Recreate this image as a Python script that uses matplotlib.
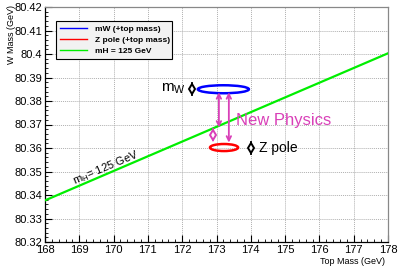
import numpy as np
import matplotlib
matplotlib.use("Agg")
import matplotlib.pyplot as plt
from matplotlib.patches import Ellipse
from matplotlib.lines import Line2D
from matplotlib.ticker import MultipleLocator, FormatStrFormatter

plt.rcParams['font.family'] = ['Liberation Sans', 'DejaVu Sans']
plt.rcParams['mathtext.fontset'] = 'custom'
plt.rcParams['mathtext.rm'] = 'Liberation Sans'
plt.rcParams['mathtext.it'] = 'Liberation Sans'

# SM line for mH = 125 GeV (top mass -> W mass)
higgs_top = [168.0, 178.0]
higgs_mw = [80.3377, 80.4003]

# measured contours: centre (top, W), full width, full height
mw_ellipse = (173.20, 80.3850, 1.49, 0.0034)
zpole_ellipse = (173.22, 80.3602, 0.82, 0.0030)

# points with vertical error bars
mw_point = (172.29, 80.3850, 0.0030)
zpole_point = (174.00, 80.3600, 0.0030)
np_point = (172.90, 80.3657, 0.0026)

# "new physics" arrows: x, y_top, y_bottom
arrows_x = [173.07, 173.36]
arrows_top = [80.3837, 80.3837]
arrows_bot = [80.3687, 80.3623]

magenta = '#d940b8'

fig = plt.figure(figsize=(3.99, 2.70), dpi=100)
ax = fig.add_axes([45/399, 1 - 242/270, 343/399, 235/270])

ax.set_xlim(168, 178)
ax.set_ylim(80.32, 80.42)

ax.xaxis.set_major_locator(MultipleLocator(1))
ax.xaxis.set_minor_locator(MultipleLocator(0.2))
ax.yaxis.set_major_locator(MultipleLocator(0.01))
ax.yaxis.set_minor_locator(MultipleLocator(0.002))
ax.yaxis.set_major_formatter(FormatStrFormatter('%g'))
ax.xaxis.set_major_formatter(FormatStrFormatter('%g'))
ax.tick_params(which='both', direction='in', top=False, right=False,
               labelsize=8, color='black')
ax.tick_params(which='major', length=5, width=0.8, pad=2)
ax.tick_params(which='minor', length=2.5, width=0.6)
for s in ['top', 'right']:
    ax.spines[s].set_color('#888888')
for s in ax.spines.values():
    s.set_linewidth(0.9)

ax.grid(which='major', color='#b0b0b0', linestyle=(0, (1, 1)), linewidth=0.7)
ax.set_axisbelow(True)

ax.plot(higgs_top, higgs_mw, color='#00ee00', lw=1.6, zorder=3)

ax.add_patch(Ellipse(mw_ellipse[:2], mw_ellipse[2], mw_ellipse[3],
                     fill=False, edgecolor='#0000ff', lw=1.8, zorder=4))
ax.add_patch(Ellipse(zpole_ellipse[:2], zpole_ellipse[2], zpole_ellipse[3],
                     fill=False, edgecolor='#ff0000', lw=1.8, zorder=4))

for (px, py, pe), col in [(mw_point, 'black'), (zpole_point, 'black'), (np_point, magenta)]:
    ax.errorbar([px], [py], yerr=[pe], fmt='d', color=col, mfc='white',
                mec=col, mew=1.4, ms=5.5, elinewidth=1.2, capsize=0, zorder=5)

for x, yt, yb in zip(arrows_x, arrows_top, arrows_bot):
    ax.annotate('', xy=(x, yb), xytext=(x, yt),
                arrowprops=dict(arrowstyle='<->', color=magenta, lw=1.3,
                                shrinkA=0, shrinkB=0, mutation_scale=8), zorder=5)

ax.text(172.10, 80.3850, r'$\mathrm{m_W}$', fontsize=11, ha='right', va='center')
ax.text(174.25, 80.3600, 'Z pole', fontsize=10, ha='left', va='center')
ax.text(173.57, 80.3717, 'New Physics', fontsize=12, color=magenta,
        ha='left', va='center')
ax.text(169.78, 80.3514, r'$\mathrm{m_{H}}$= 125 GeV', fontsize=8,
        rotation=23, ha='center', va='center', rotation_mode='anchor')

handles = [Line2D([], [], color='#0000ff', lw=1),
           Line2D([], [], color='#ff0000', lw=1),
           Line2D([], [], color='#00ee00', lw=1)]
labels = ['mW (+top mass)', 'Z pole (+top mass)', 'mH = 125 GeV']
leg = ax.legend(handles, labels, loc='upper left',
                bbox_to_anchor=(0.032, 0.787, 0.338, 0.153), mode='expand',
                prop={'size': 6, 'weight': 'bold'}, frameon=True, fancybox=False,
                shadow=False, borderpad=0.5, handlelength=3.2, handletextpad=1.0,
                labelspacing=0.35, borderaxespad=0)
leg.get_frame().set_facecolor('#f2f2f2')
leg.get_frame().set_edgecolor('black')
leg.get_frame().set_linewidth(0.8)
leg.get_frame().set_alpha(1)

fig.text(12/399, 1 - 5/270, 'W Mass (GeV)', rotation=90, fontsize=6.5,
         ha='center', va='top')
fig.text(385/399, 1 - 262/270, 'Top Mass (GeV)', fontsize=6.5,
         ha='right', va='center')

fig.savefig('out.png', dpi=100)
